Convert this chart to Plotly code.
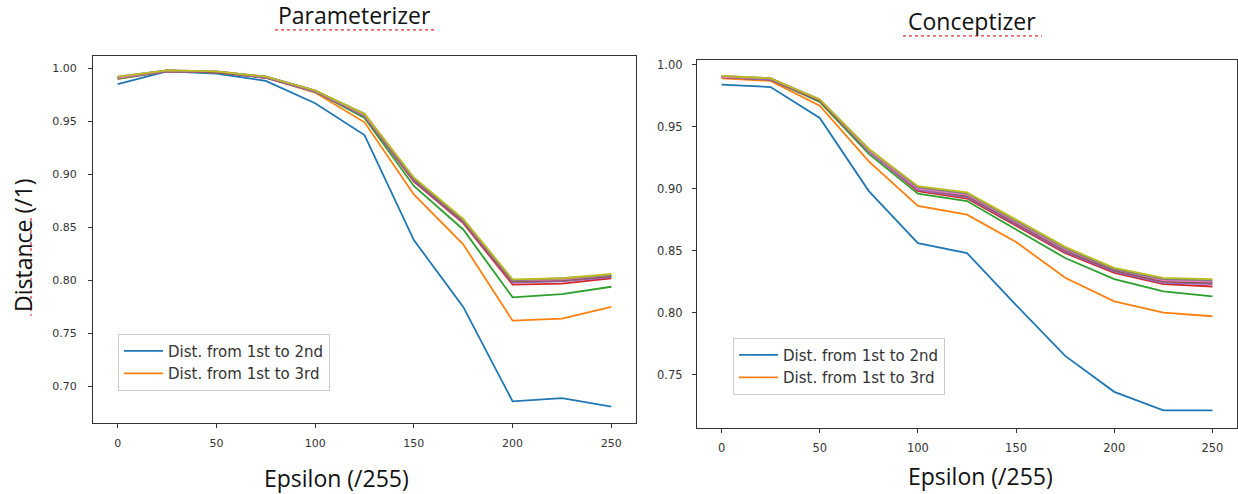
import plotly.graph_objects as go

W, H = 1238, 494

epsilon = [0, 25, 50, 75, 100, 125, 150, 175, 200, 225, 250]

# Parameterizer (left panel)
param_1_2 = [0.985, 0.997, 0.995, 0.988, 0.967, 0.937, 0.838, 0.775, 0.686, 0.689, 0.681]
param_1_3 = [0.990, 0.997, 0.996, 0.991, 0.977, 0.949, 0.881, 0.834, 0.762, 0.764, 0.775]
param_1_4 = [0.990, 0.997, 0.996, 0.991, 0.978, 0.953, 0.889, 0.848, 0.784, 0.787, 0.794]
param_1_5 = [0.991, 0.997, 0.996, 0.991, 0.978, 0.955, 0.893, 0.854, 0.796, 0.797, 0.802]
param_1_6 = [0.991, 0.997, 0.996, 0.991, 0.978, 0.955, 0.894, 0.855, 0.798, 0.799, 0.803]
param_1_7 = [0.991, 0.998, 0.996, 0.992, 0.979, 0.956, 0.895, 0.856, 0.799, 0.800, 0.804]
param_1_8 = [0.991, 0.998, 0.997, 0.992, 0.979, 0.956, 0.896, 0.857, 0.800, 0.801, 0.805]
param_1_9 = [0.992, 0.998, 0.997, 0.992, 0.979, 0.957, 0.896, 0.857, 0.800, 0.802, 0.805]
param_1_10 = [0.992, 0.998, 0.997, 0.992, 0.979, 0.957, 0.897, 0.858, 0.801, 0.802, 0.806]

# Conceptizer (right panel)
concept_1_2 = [0.984, 0.982, 0.957, 0.898, 0.856, 0.848, 0.806, 0.765, 0.736, 0.721, 0.721]
concept_1_3 = [0.989, 0.987, 0.967, 0.922, 0.886, 0.879, 0.857, 0.828, 0.809, 0.800, 0.797]
concept_1_4 = [0.990, 0.988, 0.970, 0.928, 0.896, 0.890, 0.867, 0.844, 0.827, 0.817, 0.813]
concept_1_5 = [0.990, 0.988, 0.971, 0.930, 0.898, 0.892, 0.870, 0.848, 0.832, 0.823, 0.821]
concept_1_6 = [0.990, 0.988, 0.971, 0.930, 0.899, 0.893, 0.871, 0.849, 0.833, 0.824, 0.823]
concept_1_7 = [0.990, 0.989, 0.971, 0.931, 0.900, 0.894, 0.872, 0.850, 0.834, 0.825, 0.824]
concept_1_8 = [0.990, 0.989, 0.972, 0.931, 0.900, 0.895, 0.873, 0.851, 0.835, 0.826, 0.825]
concept_1_9 = [0.991, 0.989, 0.972, 0.932, 0.901, 0.896, 0.874, 0.852, 0.835, 0.827, 0.826]
concept_1_10 = [0.991, 0.989, 0.972, 0.932, 0.902, 0.897, 0.875, 0.853, 0.836, 0.828, 0.827]

series_names = ["Dist. from 1st to 2nd", "Dist. from 1st to 3rd", "Dist. from 1st to 4th",
                "Dist. from 1st to 5th", "Dist. from 1st to 6th", "Dist. from 1st to 7th",
                "Dist. from 1st to 8th", "Dist. from 1st to 9th", "Dist. from 1st to 10th"]
colors = ["#1f77b4", "#ff7f0e", "#2ca02c", "#d62728", "#9467bd",
          "#8c564b", "#e377c2", "#7f7f7f", "#bcbd22"]

param_series = [param_1_2, param_1_3, param_1_4, param_1_5, param_1_6,
                param_1_7, param_1_8, param_1_9, param_1_10]
concept_series = [concept_1_2, concept_1_3, concept_1_4, concept_1_5, concept_1_6,
                  concept_1_7, concept_1_8, concept_1_9, concept_1_10]

x_ticks = [0, 50, 100, 150, 200, 250]
left_y_ticks = [0.70, 0.75, 0.80, 0.85, 0.90, 0.95, 1.00]
right_y_ticks = [0.75, 0.80, 0.85, 0.90, 0.95, 1.00]

fig = go.Figure()

for i, (vals, name, col) in enumerate(zip(param_series, series_names, colors)):
    fig.add_trace(go.Scatter(x=epsilon, y=vals, mode="lines", name=name,
                             line=dict(color=col, width=1.8),
                             xaxis="x", yaxis="y", legend="legend",
                             showlegend=(i < 2)))
for i, (vals, name, col) in enumerate(zip(concept_series, series_names, colors)):
    fig.add_trace(go.Scatter(x=epsilon, y=vals, mode="lines", name=name,
                             line=dict(color=col, width=1.8),
                             xaxis="x2", yaxis="y2", legend="legend2",
                             showlegend=(i < 2)))

def px_x(p):
    return p / W

def px_y(p):
    return 1 - p / H

def axis_style(size, standoff):
    return dict(showgrid=False, zeroline=False, showline=True, mirror=True,
                linecolor="#333333", linewidth=1.2, ticks="outside", ticklen=4,
                tickwidth=1.1, tickcolor="#333333", ticklabelstandoff=standoff,
                tickfont=dict(family="DejaVu Sans", size=size, color="#333333"))

legend_font = dict(family="DejaVu Sans", size=15, color="#333333")

fig.update_layout(
    width=W, height=H,
    margin=dict(l=0, r=0, t=0, b=0),
    paper_bgcolor="white", plot_bgcolor="white",
    xaxis=dict(domain=[px_x(93), px_x(636)], range=[-12.5, 262.5],
               tickvals=x_ticks, anchor="y", **axis_style(11, 5)),
    yaxis=dict(domain=[px_y(423), px_y(54)], range=[0.6653, 1.0117],
               tickvals=left_y_ticks, tickformat=".2f", anchor="x", **axis_style(11, 9)),
    xaxis2=dict(domain=[px_x(697), px_x(1237)], range=[-12.5, 262.5],
                tickvals=x_ticks, anchor="y2", **axis_style(11.5, 5)),
    yaxis2=dict(domain=[px_y(428), px_y(58)], range=[0.7066, 1.004],
                tickvals=right_y_ticks, tickformat=".2f", anchor="x2", **axis_style(11.5, 7)),
    legend=dict(x=px_x(118), y=px_y(333), xanchor="left", yanchor="top", itemwidth=39,
                bgcolor="rgba(255,255,255,0.85)", bordercolor="#cccccc", borderwidth=1,
                font=legend_font),
    legend2=dict(x=px_x(733), y=px_y(337), xanchor="left", yanchor="top", itemwidth=39,
                 bgcolor="rgba(255,255,255,0.85)", bordercolor="#cccccc", borderwidth=1,
                 font=legend_font),
)

title_font = dict(family="Open Sans", size=23, color="#111111")
annotations = [
    dict(text="Parameterizer", x=px_x(354), y=px_y(13)),
    dict(text="Conceptizer", x=px_x(972), y=px_y(19)),
    dict(text="Epsilon (/255)", x=px_x(336), y=px_y(478)),
    dict(text="Epsilon (/255)", x=px_x(980), y=px_y(476)),
    dict(text="Distance (/1)", x=px_x(23), y=px_y(244), textangle=-90),
]
for a in annotations:
    fig.add_annotation(xref="paper", yref="paper", showarrow=False,
                       xanchor="center", yanchor="middle", font=title_font, **a)

# red dotted spell-check underlines seen in the reference
squiggle = dict(type="line", xref="paper", yref="paper",
                line=dict(color="#e03030", width=1.2, dash="dot"))
fig.add_shape(x0=px_x(275), x1=px_x(434), y0=px_y(28), y1=px_y(28), **squiggle)
fig.add_shape(x0=px_x(903), x1=px_x(1042), y0=px_y(34), y1=px_y(34), **squiggle)
fig.add_shape(x0=px_x(31), x1=px_x(31), y0=px_y(217), y1=px_y(315), **squiggle)

fig.write_html(
    "out.html",
    config={"displayModeBar": False},
    post_script="document.body.style.margin='0';"
                "document.documentElement.style.overflow='hidden';"
                "document.body.style.overflow='hidden';",
)
